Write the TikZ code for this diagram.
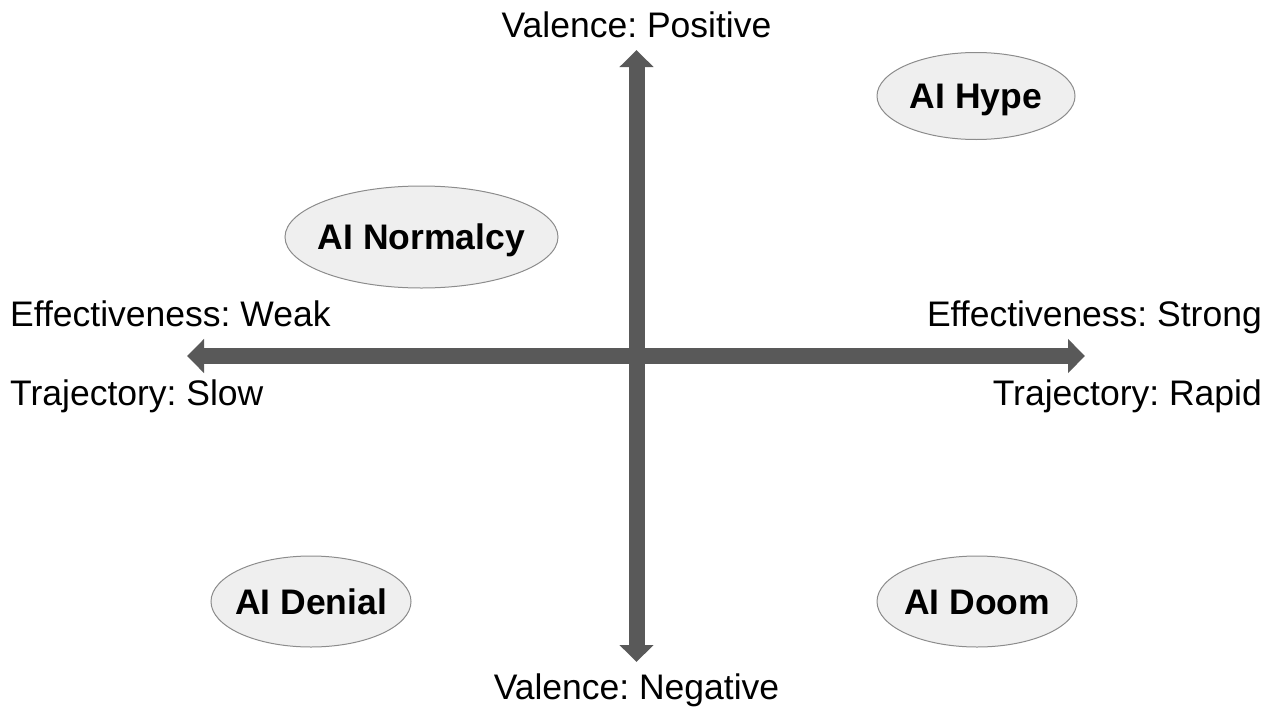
\documentclass[tikz,border=0pt]{standalone}
\usepackage{fontspec}
\setmainfont{Liberation Sans}
\usetikzlibrary{arrows.meta,shapes.geometric}
\definecolor{axisgray}{HTML}{595959}
\definecolor{ellfill}{HTML}{EFEFEF}
\definecolor{ellline}{HTML}{8C8C8C}
\frenchspacing
\newcommand{\zb}[1]{\makebox[0pt]{#1}}
\begin{document}
\begin{tikzpicture}[x=1pt,y=-1pt,
  axisline/.style={draw=axisgray,line width=16pt,
    {Triangle[length=17pt,width=33pt]}-{Triangle[length=17pt,width=33pt]}},
  quad/.style={ellipse,draw=ellline,line width=1pt,fill=ellfill,inner sep=0pt,
    text height=25.4pt,text depth=0pt,
    font=\fontsize{35.5}{40}\selectfont\bfseries},
  lbl/.style={inner sep=0pt,text height=25.4pt,text depth=0pt,
    font=\fontsize{35.5}{40}\selectfont}]
\useasboundingbox (0,0) rectangle (1274,707);
\coordinate (vtop) at (636.5,50);
\coordinate (vbot) at (636.5,662);
\coordinate (hleft) at (187,356);
\coordinate (hright) at (1085,356);
\draw[axisline] (hleft) -- (hright);
\draw[axisline] (vtop) -- (vbot);
\node[quad,minimum width=198pt,minimum height=87pt] (hype) at (976,96) {\zb{AI Hype}};
\node[quad,minimum width=273pt,minimum height=102pt] (normalcy) at (421.5,237) {\zb{AI Normalcy}};
\node[quad,minimum width=200pt,minimum height=91pt] (denial) at (311,601.5) {\zb{AI Denial}};
\node[quad,minimum width=200pt,minimum height=91pt] (doom) at (977,601.5) {\zb{AI Doom}};
\node[lbl] (vpos) at (636.5,25) {Valence: Positive};
\node[lbl] (vneg) at (636.5,687) {Valence: Negative};
\node[lbl,anchor=west] (eweak) at (10,314) {Effectiveness: Weak};
\node[lbl,anchor=west] (tslow) at (10,392.5) {Trajectory: Slow};
\node[lbl,anchor=east] (estrong) at (1262,314) {Effectiveness: Strong};
\node[lbl,anchor=east] (trapid) at (1262,392.5) {Trajectory: Rapid};
\end{tikzpicture}
\end{document}
